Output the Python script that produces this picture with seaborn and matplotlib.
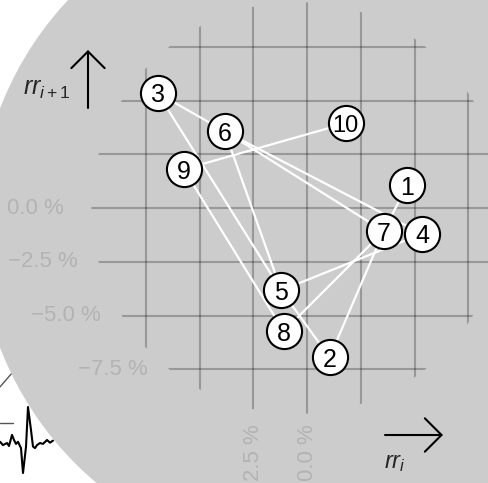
import numpy as np
import pandas as pd
import matplotlib
matplotlib.use("Agg")
import matplotlib.pyplot as plt
from matplotlib.patches import Circle
import seaborn as sns

# relative change of successive rr intervals (%)
rr = [4.65, 1.05, -6.95, 5.35, -1.2, -3.83, 3.57, -1.08, -5.73, 1.8, 3.94]
node_ids = [1, 2, 3, 4, 5, 6, 7, 8, 9, 10]
# order in which the white line visits the nodes
path = [1, 7, 2, 5, 3, 6, 4, 5, 6, 7, 8, 9, 10]

grid_ticks = [-7.5, -5.0, -2.5, 0.0, 2.5, 5.0, 7.5]
y_tick_labels = [0.0, -2.5, -5.0, -7.5]
x_tick_labels = [-2.5, 0.0]

# ecg snippet in the lower left corner
ecg_t = [0, 3, 7, 9, 12, 14, 16, 18, 21, 23, 26, 28, 31, 33, 35, 37, 40, 43, 47, 50, 53]
ecg_v = [0.14, 0.03, 0.1, 0.0, 0.37, 0.2, 0.07, 0.14, -0.07, -0.9, -0.03, 1.3, 0.53,
         -0.02, -0.07, 0.03, 0.1, 0.07, 0.2, 0.11, 0.18]
frag_t = [0, 13]
frag_flat = [0.77, 0.77]
frag_diag = [1.97, 2.47]

# layout
W, H = 488, 483
PX = 21.5                 # pixels per percent
X0, Y0 = 307, 208         # pixel position of (0 %, 0 %)
BG_CENTER, BG_R = (0.19, -0.93), 15.5
GRID_CENTER, GRID_R = (-0.45, 0.0), 9.58
GREY = "#cccccc"
LABEL_GREY = "#b3b3b3"

sns.set_theme(style="white")
plt.rcParams["font.family"] = ["Liberation Sans", "DejaVu Sans"]
plt.rcParams["mathtext.fontset"] = "custom"
plt.rcParams["mathtext.it"] = "Liberation Sans:italic"
plt.rcParams["mathtext.rm"] = "Liberation Sans"


def minus(s):
    return s.replace("-", "\u2212")


fig = plt.figure(figsize=(W / 100, H / 100), dpi=100)

# ecg sits under the grey disc
ax_ecg = fig.add_axes([0, 3 / H, 60 / W, 140 / H])
ax_ecg.set_zorder(0)
ax_ecg.set_xlim(0, 60)
ax_ecg.set_ylim((446 - 480) / 30, (446 - 340) / 30)
ax_ecg.axis("off")
sns.lineplot(x=ecg_t, y=ecg_v, ax=ax_ecg, color="black", lw=1.5, sort=False, estimator=None)
ax_ecg.plot(frag_t, frag_flat, color="#555555", lw=1)
ax_ecg.plot(frag_t, frag_diag, color="#555555", lw=1)

ax = fig.add_axes([0, 0, 1, 1])
ax.set_zorder(1)
ax.patch.set_visible(False)
ax.set_xlim(-X0 / PX, (W - X0) / PX)
ax.set_ylim((Y0 - H) / PX, Y0 / PX)
ax.axis("off")

ax.add_patch(Circle(BG_CENTER, BG_R, fc=GREY, ec="none", zorder=0))

clip = Circle(GRID_CENTER, GRID_R, transform=ax.transData)
for t in grid_ticks:
    for line in (ax.axvline(t, color="black", alpha=0.25, lw=1.5, zorder=1),
                 ax.axhline(t, color="black", alpha=0.25, lw=1.5, zorder=1)):
        line.set_clip_path(clip)

cx, cy = GRID_CENTER
for v in y_tick_labels:
    x = cx - np.sqrt(GRID_R ** 2 - (v - cy) ** 2) - 2.6
    ax.text(x, v, minus(f"{v:.1f} %"), ha="center", va="center",
            color=LABEL_GREY, fontsize=16, zorder=2)
for v in x_tick_labels:
    ax.text(v, cy - GRID_R - 0.5, minus(f"{v:.1f} %"), ha="center", va="top",
            rotation=90, color=LABEL_GREY, fontsize=16, zorder=2)

# poincare points: (rr_i, rr_i+1)
nodes = pd.DataFrame({"id": node_ids, "x": rr[:-1], "y": rr[1:]}).set_index("id")
route = nodes.loc[path].reset_index()

sns.lineplot(data=route, x="x", y="y", ax=ax, sort=False, estimator=None,
             color="white", lw=1.6, zorder=2)
sns.scatterplot(data=nodes, x="x", y="y", ax=ax, s=640, color="white",
                edgecolor="black", linewidth=1.5, zorder=3, legend=False)
for nid, row in nodes.iterrows():
    ax.text(row.x, row.y, str(nid), ha="center", va="center_baseline",
            fontsize=18 if nid < 10 else 17, color="black", zorder=4)

# axis arrows
arrow = dict(arrowstyle="->,head_length=0.6,head_width=0.6", mutation_scale=20,
             lw=1.5, color="black", shrinkA=0, shrinkB=0)
ax.annotate("", xy=(88, H - 50), xytext=(88, H - 108), xycoords="figure pixels",
            textcoords="figure pixels", arrowprops=arrow)
ax.annotate("", xy=(443, H - 435), xytext=(385, H - 435), xycoords="figure pixels",
            textcoords="figure pixels", arrowprops=arrow)
fig.text(70 / W, (H - 95) / H, "$rr_{i+1}$", ha="right", va="baseline", fontsize=18)
fig.text(384 / W, (H - 468) / H, "$rr_i$", ha="left", va="baseline", fontsize=17)

fig.savefig("out.png", dpi=100, facecolor="white")
